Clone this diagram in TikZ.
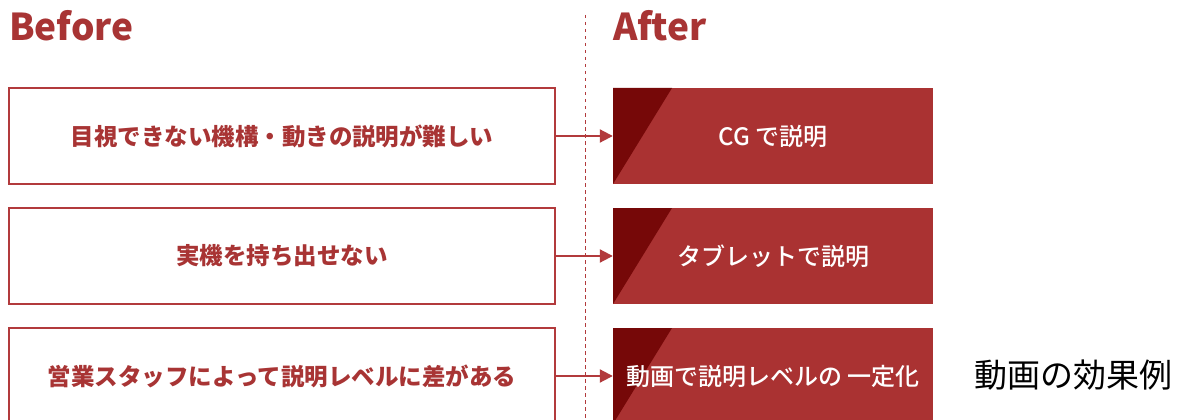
\documentclass[tikz,border=0pt]{standalone}
\usepackage{fontspec}
\usetikzlibrary{arrows.meta}
\newfontfamily\jp{Noto Sans CJK JP}
\newfontfamily\jpm{Noto Sans CJK JP Medium}
\definecolor{redline}{HTML}{B23A3C}
\definecolor{redfill}{HTML}{AA3232}
\definecolor{darkred}{HTML}{760808}
\definecolor{redtext}{HTML}{A83434}
\tikzset{
  beforebox/.style={draw=redline, line width=1.5pt, fill=white, minimum width=546pt, minimum height=96pt, inner sep=0pt,
    text=redtext, font=\jp\bfseries\fontsize{23.5pt}{26pt}\selectfont},
  afterbox/.style={fill=redfill, minimum width=320pt, minimum height=96pt, inner sep=0pt,
    text=white, font=\jpm\fontsize{24pt}{26pt}\selectfont,
    path picture={\fill[darkred] (path picture bounding box.north west) -- ++(59,0) -- (path picture bounding box.south west) -- cycle;}},
  head/.style={text=redtext, font=\jp\bfseries\fontsize{37pt}{40pt}\selectfont, anchor=base west, inner sep=0pt},
  conn/.style={draw=redline, line width=2pt, -{Triangle[length=13pt,width=13pt]}}
}
\begin{document}
\begin{tikzpicture}[x=1pt,y=-1pt]
\useasboundingbox (0,0) rectangle (1179,420);
\clip (0,0) rectangle (1179,420);
\fill[white] (0,0) rectangle (1179,420);
\coordinate (dtop) at (585,15);
\coordinate (dbot) at (585,420);
\draw[redline, line width=1pt, dash pattern=on 3.5pt off 3.5pt] (dtop) -- (dbot);
\node[head] (before) at (9,41) {Before};
\node[head] (after) at (613,41) {After};
\node[beforebox] (l1) at (282,136) {目視できない機構・動きの説明が難しい};
\node[beforebox] (l2) at (282,256) {実機を持ち出せない};
\node[beforebox] (l3) at (282,376) {営業スタッフによって説明レベルに差がある};
\node[afterbox] (r1) at (773,136) {CG で説明};
\node[afterbox] (r2) at (773,256) {タブレットで説明};
\node[afterbox] (r3) at (773,376) {動画で説明レベルの 一定化};
\draw[conn] (l1.east) -- (r1.west);
\draw[conn] (l2.east) -- (r2.west);
\draw[conn] (l3.east) -- (r3.west);
\node[font=\jp\fontsize{33pt}{36pt}\selectfont, text=black, anchor=west, inner sep=0pt] (label) at (974,375) {動画の効果例};
\end{tikzpicture}
\end{document}
